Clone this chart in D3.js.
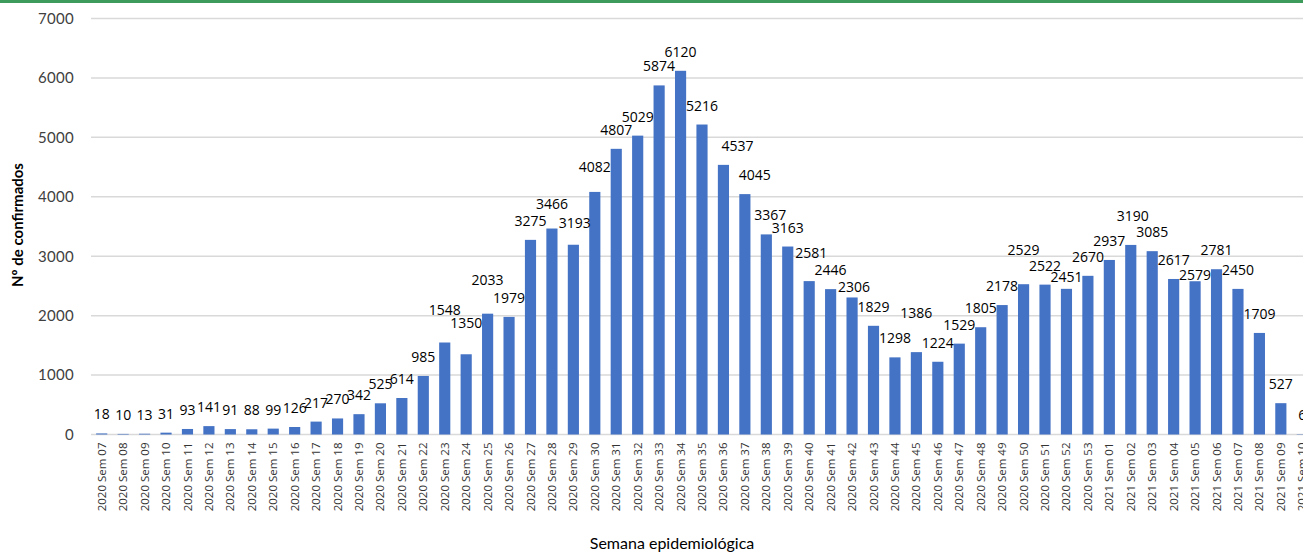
<!DOCTYPE html>
<html>
<head>
<meta charset="utf-8">
<script src="https://cdn.jsdelivr.net/npm/d3@7"></script>
<style>
  body { margin: 0; background: #fff; overflow: hidden; }
  svg { display: block; }
</style>
</head>
<body>
<svg id="chart" width="1303" height="552"></svg>
<script>
// weeks and confirmed cases
const years = [
  '2020','2020','2020','2020','2020','2020','2020','2020','2020','2020',
  '2020','2020','2020','2020','2020','2020','2020','2020','2020','2020',
  '2020','2020','2020','2020','2020','2020','2020','2020','2020','2020',
  '2020','2020','2020','2020','2020','2020','2020','2020','2020','2020',
  '2020','2020','2020','2020','2020','2020','2020',
  '2021','2021','2021','2021','2021','2021','2021','2021','2021','2021'
]
const weeks = [
  '07','08','09','10','11','12','13','14','15','16',
  '17','18','19','20','21','22','23','24','25','26',
  '27','28','29','30','31','32','33','34','35','36',
  '37','38','39','40','41','42','43','44','45','46',
  '47','48','49','50','51','52','53',
  '01','02','03','04','05','06','07','08','09','10'
]
const confirmed = [
  18, 10, 13, 31, 93, 141, 91, 88, 99, 126,
  217, 270, 342, 525, 614, 985, 1548, 1350, 2033, 1979,
  3275, 3466, 3193, 4082, 4807, 5029, 5874, 6120, 5216, 4537,
  4045, 3367, 3163, 2581, 2446, 2306, 1829, 1298, 1386, 1224,
  1529, 1805, 2178, 2529, 2522, 2451, 2670,
  2937, 3190, 3085, 2617, 2579, 2781, 2450, 1709, 527, 6
]
const yTicks = [0, 1000, 2000, 3000, 4000, 5000, 6000, 7000]

// hand-moved data labels in the original (index -> [dx, dy])
const labelNudge = {
  16: [0, -14], 17: [0, -12], 18: [0, -15], 21: [0, -6], 22: [1.5, -3],
  23: [0, -6], 29: [14, 0], 30: [10, 0], 31: [4, 0],
  33: [2, -9], 35: [2, 8.5], 38: [0, -20],
  43: [0, -15], 45: [0, 7], 48: [2, -10], 51: [0, 13]
}

const data = weeks.map((w, i) => ({ i, label: `${years[i]} Sem ${w}`, y: confirmed[i] }))

const svg = d3.select('#chart')
const margin = { left: 91, top: 18.5, bottom: 117.5 }
const plotW = 1222
const plotH = 552 - margin.top - margin.bottom

// top green rule
svg.append('rect')
  .attr('x', 0).attr('y', 0)
  .attr('width', 1303).attr('height', 3)
  .attr('fill', '#3d9c5b')

const x = d3.scaleBand()
  .domain(data.map(d => d.label))
  .range([0, plotW])
  .paddingInner(0.48)
  .paddingOuter(0.24)

const y = d3.scaleLinear().domain([0, 7000]).range([plotH, 0])

const g = svg.append('g').attr('transform', `translate(${margin.left},${margin.top})`)

// grid lines
g.selectAll('line.grid')
  .data(yTicks)
  .enter()
  .append('line')
  .attr('class', 'grid')
  .attr('x1', 0).attr('x2', plotW)
  .attr('y1', d => y(d)).attr('y2', d => y(d))
  .attr('stroke', '#d9d9d9')
  .attr('stroke-width', 1.5)

// y tick labels
g.selectAll('text.ytick')
  .data(yTicks)
  .enter()
  .append('text')
  .attr('class', 'ytick')
  .attr('x', -17)
  .attr('y', d => y(d))
  .attr('dy', '0.36em')
  .attr('text-anchor', 'end')
  .attr('font-family', 'Lato, sans-serif')
  .attr('font-size', '15px')
  .attr('letter-spacing', '0.3px')
  .attr('fill', '#404040')
  .text(d => d)

// bars
g.selectAll('rect.bar')
  .data(data)
  .enter()
  .append('rect')
  .attr('class', 'bar')
  .attr('x', d => x(d.label))
  .attr('y', d => y(d.y))
  .attr('width', x.bandwidth())
  .attr('height', d => plotH - y(d.y))
  .attr('fill', '#4472c4')

// value labels
const nudge = d => labelNudge[d.i] || [0, 0]
g.selectAll('text.val')
  .data(data)
  .enter()
  .append('text')
  .attr('class', 'val')
  .attr('x', d => x(d.label) + x.bandwidth() / 2 + nudge(d)[0])
  .attr('y', d => y(d.y) - 14 + nudge(d)[1])
  .attr('text-anchor', 'middle')
  .attr('font-family', '"Open Sans", sans-serif')
  .attr('font-size', '14px')
  .attr('fill', '#000')
  .text(d => d.y)

// x tick labels (rotated)
g.selectAll('text.xtick')
  .data(data)
  .enter()
  .append('text')
  .attr('class', 'xtick')
  .attr('transform', d => `translate(${x(d.label) + x.bandwidth() / 2},${plotH + 8}) rotate(-90)`)
  .attr('dy', '0.35em')
  .attr('text-anchor', 'end')
  .attr('font-family', '"Open Sans", sans-serif')
  .attr('font-size', '11.5px')
  .attr('fill', '#333')
  .text(d => d.label)

// axis titles
svg.append('text')
  .attr('x', 672)
  .attr('y', 549)
  .attr('text-anchor', 'middle')
  .attr('font-family', 'Lato, sans-serif')
  .attr('font-size', '16px')
  .attr('fill', '#000')
  .text('Semana epidemiológica')

svg.append('text')
  .attr('transform', 'translate(23,225) rotate(-90)')
  .attr('text-anchor', 'middle')
  .attr('font-family', 'Lato, sans-serif')
  .attr('font-weight', 'bold')
  .attr('font-size', '15px')
  .attr('fill', '#000')
  .text('Nº de confirmados')
</script>
</body>
</html>
